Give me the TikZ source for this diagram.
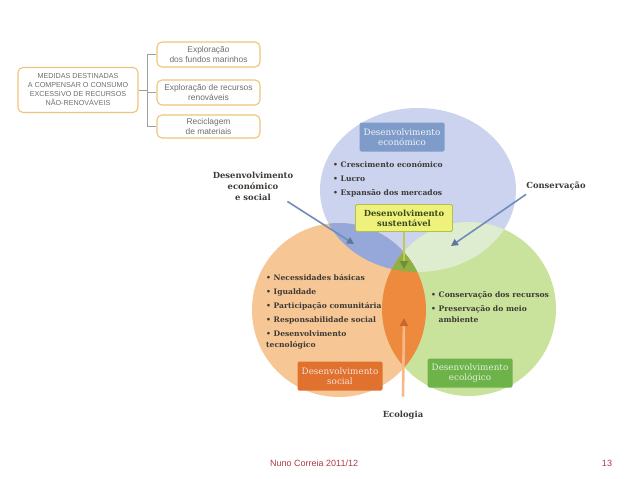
\documentclass[tikz,border=0pt]{standalone}
\usepackage{fontspec}
\setmainfont{DejaVu Serif}
\newfontfamily\sansf{Liberation Sans}
\usetikzlibrary{arrows.meta}
\definecolor{blueC}{HTML}{CBD3EE}
\definecolor{blueOr}{HTML}{95A8D9}
\definecolor{blueGr}{HTML}{DEECD0}
\definecolor{orangeC}{HTML}{F6C794}
\definecolor{greenC}{HTML}{C9E39C}
\definecolor{lensC}{HTML}{EE8A3D}
\definecolor{tripleC}{HTML}{8EB045}
\definecolor{econBox}{HTML}{7F9BC9}
\definecolor{socBox}{HTML}{E1712F}
\definecolor{ecoBox}{HTML}{6DB34A}
\definecolor{sustFill}{HTML}{EEF27C}
\definecolor{sustLine}{HTML}{B3C04A}
\definecolor{sustText}{HTML}{3B4A1C}
\definecolor{darkTxt}{HTML}{3E3A36}
\definecolor{arrBlue}{HTML}{6F8DB8}
\definecolor{tanLine}{HTML}{EFC47A}
\definecolor{grayTxt}{HTML}{6E6E6E}
\definecolor{footRed}{HTML}{B23A48}
\tikzset{
  colbox/.style={rounded corners=1.5pt, minimum width=85pt, minimum height=29pt, align=center,
    font=\fontsize{8.8}{10}\selectfont, inner sep=1pt},
  bullets/.style={anchor=west, align=left, inner sep=0pt, text=darkTxt,
    font=\fontsize{7.6}{11}\selectfont\bfseries},
  title/.style={align=center, inner sep=0pt, text=darkTxt,
    font=\fontsize{8.4}{11}\selectfont\bfseries},
  arrowblue/.style={draw=arrBlue, line width=1.6pt, -{Triangle[length=7pt,width=7pt,color=arrBlue!85!black]}},
  tanbox/.style={draw=tanLine, line width=1.1pt, rounded corners=5pt, fill=white, align=center,
    text=grayTxt, inner sep=1pt},
  bracket/.style={draw=gray!75, line width=0.8pt}
}
\begin{document}
\begin{tikzpicture}[x=1pt,y=-1pt]
\useasboundingbox (0,0) rectangle (638,479);
\fill[white] (0,0) rectangle (638,479);

% circles
\fill[blueC] (418,190) ellipse [x radius=98pt, y radius=82pt];
\fill[orangeC] (339,310) circle [radius=87pt];
\fill[greenC] (469,309) circle [radius=87pt];
\begin{scope}
  \clip (339,310) circle [radius=87pt];
  \fill[blueOr] (418,190) ellipse [x radius=98pt, y radius=82pt];
\end{scope}
\begin{scope}
  \clip (469,309) circle [radius=87pt];
  \fill[blueGr] (418,190) ellipse [x radius=98pt, y radius=82pt];
\end{scope}
\begin{scope}
  \clip (339,310) circle [radius=87pt];
  \fill[lensC] (469,309) circle [radius=87pt];
  \clip (469,309) circle [radius=87pt];
  \fill[tripleC] (418,190) ellipse [x radius=98pt, y radius=82pt];
\end{scope}

% category boxes
\node[colbox, fill=econBox, text=white!90!econBox] (econ) at (402,137) {Desenvolvimento\\económico};
\node[colbox, fill=socBox, text=white!80!socBox] (soc) at (340,376) {Desenvolvimento\\social};
\node[colbox, fill=ecoBox, text=white!80!ecoBox] (eco) at (470,373) {Desenvolvimento\\ecológico};
\node[draw=sustLine, line width=0.9pt, fill=sustFill, rounded corners=1.5pt, minimum width=97pt,
  minimum height=27pt, align=center, inner sep=1pt, text=sustText,
  font=\fontsize{8.4}{10}\selectfont\bfseries] (sust) at (404,218) {Desenvolvimento\\sustentável};

% bullet lists
\node[bullets] (lecon) at (333,179) {• Crescimento económico\\[3pt]• Lucro\\[3pt]• Expansão dos mercados};
\node[bullets] (lsoc) at (266,311.5) {• Necessidades básicas\\[3pt]• Igualdade\\[3pt]• Participação comunitária\\[3pt]• Responsabilidade social\\[3pt]• Desenvolvimento\\tecnológico};
\node[bullets] (leco) at (431,307) {• Conservação dos recursos\\[3pt]• Preservação do meio\\\phantom{• }ambiente};

% outer labels
\node[title] (des) at (253,186) {Desenvolvimento\\económico\\e social};
\node[title] (cons) at (556,186) {Conservação};
\node[title] (ecol) at (403,415) {Ecologia};

% arrows
\coordinate (pA) at (354,244);
\coordinate (pB) at (451,246);
\coordinate (pC) at (404,269);
\coordinate (pD) at (404,318);
\draw[arrowblue] ([xshift=-6pt,yshift=-1pt]des.south east) -- (pA);
\draw[arrowblue] ([yshift=-4pt]cons.south west) -- (pB);
\draw[draw=sustLine!80!sustFill, line width=2pt, -{Triangle[length=8pt,width=8pt,color=tripleC!80!black]}] (sust.south) -- (pC);
\draw[draw=lensC!60!white, line width=2.6pt, -{Triangle[length=8pt,width=8pt,color=socBox!90!black]}] ([yshift=14pt]ecol.north) -- (pD);

% left diagram
\node[tanbox, minimum width=120pt, minimum height=45pt, font=\sansf\fontsize{7.2}{9}\selectfont] (main) at (78,90)
  {MEDIDAS DESTINADAS\\A COMPENSAR O CONSUMO\\EXCESSIVO DE RECURSOS\\NÃO-RENOVÁVEIS};
\node[tanbox, minimum width=103pt, minimum height=25pt, font=\sansf\fontsize{8.4}{10}\selectfont] (b1) at (208.5,54.5)
  {Exploração\\dos fundos marinhos};
\node[tanbox, minimum width=103pt, minimum height=25pt, font=\sansf\fontsize{8.4}{10}\selectfont] (b2) at (208.5,92.5)
  {Exploração de recursos\\renováveis};
\node[tanbox, minimum width=103pt, minimum height=23pt, font=\sansf\fontsize{8.4}{10}\selectfont] (b3) at (208.5,126.5)
  {Reciclagem\\de materiais};
\coordinate (br) at (147,90);
\draw[bracket] (main.east) -- (br);
\draw[bracket] (br |- b1.west) -- (br |- b3.west);
\draw[bracket] (br |- b1.west) -- (b1.west);
\draw[bracket] (br |- b2.west) -- (b2.west);
\draw[bracket] (br |- b3.west) -- (b3.west);

% footer
\node[anchor=west, inner sep=0pt, text=footRed, font=\sansf\fontsize{9}{11}\selectfont] (foot) at (270,463) {Nuno Correia 2011/12};
\node[inner sep=0pt, text=footRed, font=\sansf\fontsize{9}{11}\selectfont] (page) at (607,463) {13};
\end{tikzpicture}
\end{document}
